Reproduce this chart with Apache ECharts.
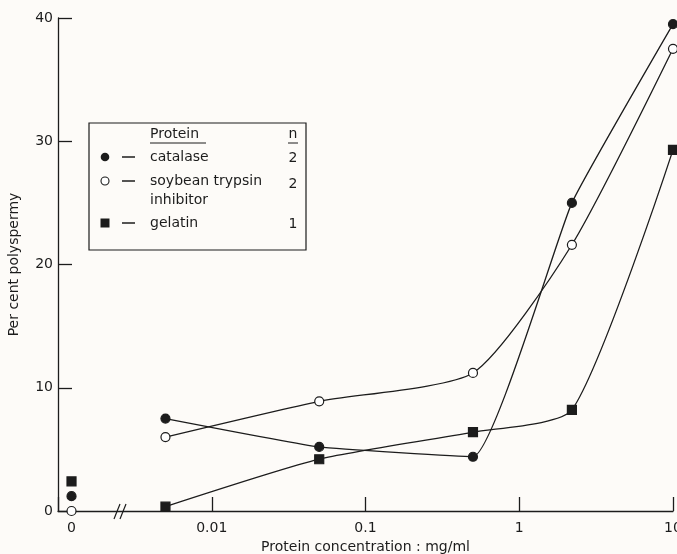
<!DOCTYPE html>
<html>
<head>
<meta charset="utf-8">
<script src="https://cdn.jsdelivr.net/npm/echarts@6/dist/echarts.min.js"></script>
<style>html,body{margin:0;padding:0;background:#fdfbf8;}#c{width:677px;height:554px;}</style>
</head>
<body>
<div id="c"></div>
<script>
// ---- data ----
const concentrations = [0.005, 0.05, 0.5, 2.2, 10];          // mg/ml
const catalase = [7.5, 5.2, 4.4, 25.0, 39.5];                // % polyspermy
const soybeanTrypsinInhibitor = [6.0, 8.9, 11.2, 21.6, 37.5];
const gelatin = [0.35, 4.2, 6.4, 8.2, 29.3];
const controlX = [0];                                         // 0 mg/ml (control)
const controlCatalase = [1.2];
const controlSoybean = [0];
const controlGelatin = [2.4];
const xTickLabels = {'-2': '0.01', '-1': '0.1', '0': '1', '1': '10'};
const yTicks = [0, 10, 20, 30, 40];

const FONT = 'DejaVu Sans';
const INK = '#1c1c1c';

function pairs(xs, ys) { return xs.map((x, i) => [x, ys[i]]); }

const chart = echarts.init(document.getElementById('c'), null, {renderer: 'canvas'});

const lineBase = {
  type: 'line', xAxisIndex: 0, yAxisIndex: 0,
  smooth: 0.2, symbolSize: 9,
  lineStyle: {color: INK, width: 1.3},
  itemStyle: {color: INK, borderColor: INK, borderWidth: 1.2, opacity: 1},
  z: 3
};
const scatterBase = {
  type: 'scatter', xAxisIndex: 1, yAxisIndex: 0, symbolSize: 9,
  itemStyle: {color: INK, borderColor: INK, borderWidth: 1.2, opacity: 1}, z: 4, clip: false
};

const option = {
  backgroundColor: '#fdfbf8',
  animation: false,
  textStyle: {fontFamily: FONT, color: INK},
  grid: {left: 58, right: 4, top: 18, bottom: 43, containLabel: false, outerBoundsMode: 'none'},
  xAxis: [{
    type: 'log', logBase: 10, min: 0.001, max: 10,
    position: 'bottom',
    name: 'Protein concentration : mg/ml',
    nameLocation: 'middle', nameGap: 27,
    nameTextStyle: {fontFamily: FONT, fontSize: 14, color: INK},
    axisLine: {show: true, onZero: false, lineStyle: {color: INK, width: 1.3}},
    axisTick: {show: true, inside: true, length: 14, lineStyle: {color: INK, width: 1.3}},
    minorTick: {show: false},
    splitLine: {show: false},
    axisLabel: {
      margin: 10, fontFamily: FONT, fontSize: 14, color: INK,
      formatter: function (v) {
        const k = String(Math.round(Math.log10(v)));
        return xTickLabels[k] || '';
      }
    }
  }, {
    type: 'value', min: -1, max: 44.5, interval: 1,
    position: 'bottom',
    axisLine: {show: false, onZero: false},
    axisTick: {show: false},
    splitLine: {show: false},
    axisLabel: {
      margin: 10, fontFamily: FONT, fontSize: 14, color: INK,
      formatter: function (v) { return controlX.indexOf(v) >= 0 ? String(v) : ''; }
    }
  }],
  yAxis: {
    type: 'value', min: yTicks[0], max: yTicks[yTicks.length - 1], interval: 10,
    name: 'Per cent polyspermy',
    nameLocation: 'middle', nameGap: 37, nameRotate: 90,
    nameTextStyle: {fontFamily: FONT, fontSize: 14, color: INK},
    axisLine: {show: true, onZero: false, lineStyle: {color: INK, width: 1.3}},
    axisTick: {show: true, inside: true, length: 14, lineStyle: {color: INK, width: 1.3}},
    splitLine: {show: false},
    axisLabel: {margin: 5, fontFamily: FONT, fontSize: 14, color: INK}
  },
  series: [
    Object.assign({}, lineBase, {name: 'catalase', symbol: 'circle', smooth: 0.12, data: pairs(concentrations, catalase)}),
    Object.assign({}, lineBase, {name: 'soybean trypsin inhibitor', symbol: 'circle',
      itemStyle: {color: '#ffffff', borderColor: INK, borderWidth: 1.2, opacity: 1},
      data: pairs(concentrations, soybeanTrypsinInhibitor)}),
    Object.assign({}, lineBase, {name: 'gelatin', symbol: 'rect', data: pairs(concentrations, gelatin)}),
    Object.assign({}, scatterBase, {name: 'catalase control', symbol: 'circle', data: pairs(controlX, controlCatalase)}),
    Object.assign({}, scatterBase, {name: 'soybean control', symbol: 'circle',
      itemStyle: {color: '#ffffff', borderColor: INK, borderWidth: 1.2, opacity: 1},
      data: pairs(controlX, controlSoybean)}),
    Object.assign({}, scatterBase, {name: 'gelatin control', symbol: 'rect', data: pairs(controlX, controlGelatin)})
  ],
  graphic: [
    // axis break mark
    {type: 'line', shape: {x1: 114, y1: 519, x2: 120, y2: 504}, style: {stroke: INK, lineWidth: 1.2}, z: 10},
    {type: 'line', shape: {x1: 120, y1: 519, x2: 126, y2: 504}, style: {stroke: INK, lineWidth: 1.2}, z: 10},
    // legend box
    {type: 'rect', shape: {x: 89, y: 123, width: 217, height: 127},
      style: {fill: '#fdfbf8', stroke: INK, lineWidth: 1.2}, z: 20},
    {type: 'text', x: 150, y: 134, style: {text: 'Protein', font: '14px "DejaVu Sans"', fill: INK, textVerticalAlign: 'middle'}, z: 21},
    {type: 'line', shape: {x1: 150, y1: 143, x2: 206, y2: 143}, style: {stroke: INK, lineWidth: 1}, z: 21},
    {type: 'text', x: 293, y: 134, style: {text: 'n', font: '14px "DejaVu Sans"', fill: INK, textAlign: 'center', textVerticalAlign: 'middle'}, z: 21},
    {type: 'line', shape: {x1: 288, y1: 143, x2: 298, y2: 143}, style: {stroke: INK, lineWidth: 1}, z: 21},
    // row 1
    {type: 'circle', shape: {cx: 105, cy: 157, r: 4.3}, style: {fill: INK}, z: 21},
    {type: 'line', shape: {x1: 122, y1: 157, x2: 135, y2: 157}, style: {stroke: INK, lineWidth: 1.5}, z: 21},
    {type: 'text', x: 150, y: 157, style: {text: 'catalase', font: '14px "DejaVu Sans"', fill: INK, textVerticalAlign: 'middle'}, z: 21},
    {type: 'text', x: 293, y: 158, style: {text: '2', font: '14px "DejaVu Sans"', fill: INK, textAlign: 'center', textVerticalAlign: 'middle'}, z: 21},
    // row 2
    {type: 'circle', shape: {cx: 105, cy: 181, r: 4}, style: {fill: '#ffffff', stroke: INK, lineWidth: 1.1}, z: 21},
    {type: 'line', shape: {x1: 122, y1: 181, x2: 135, y2: 181}, style: {stroke: INK, lineWidth: 1.5}, z: 21},
    {type: 'text', x: 150, y: 181, style: {text: 'soybean trypsin', font: '14px "DejaVu Sans"', fill: INK, textVerticalAlign: 'middle'}, z: 21},
    {type: 'text', x: 150, y: 200, style: {text: 'inhibitor', font: '14px "DejaVu Sans"', fill: INK, textVerticalAlign: 'middle'}, z: 21},
    {type: 'text', x: 293, y: 184, style: {text: '2', font: '14px "DejaVu Sans"', fill: INK, textAlign: 'center', textVerticalAlign: 'middle'}, z: 21},
    // row 3
    {type: 'rect', shape: {x: 100.5, y: 218.5, width: 9, height: 9}, style: {fill: INK}, z: 21},
    {type: 'line', shape: {x1: 122, y1: 223, x2: 135, y2: 223}, style: {stroke: INK, lineWidth: 1.5}, z: 21},
    {type: 'text', x: 150, y: 223, style: {text: 'gelatin', font: '14px "DejaVu Sans"', fill: INK, textVerticalAlign: 'middle'}, z: 21},
    {type: 'text', x: 293, y: 224, style: {text: '1', font: '14px "DejaVu Sans"', fill: INK, textAlign: 'center', textVerticalAlign: 'middle'}, z: 21}
  ]
};
chart.setOption(option);
</script>
</body>
</html>
